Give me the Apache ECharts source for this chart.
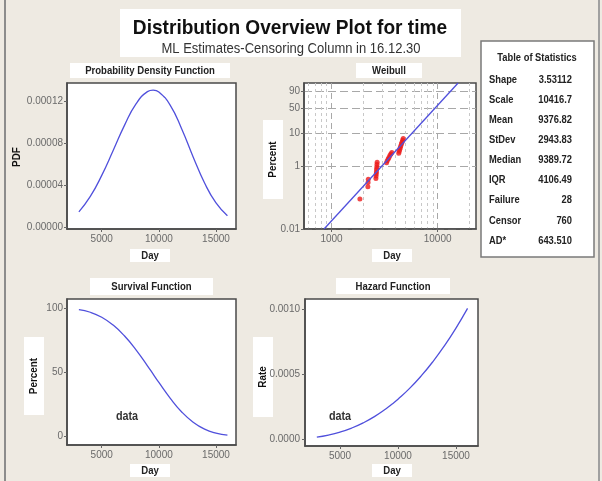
<!DOCTYPE html>
<html>
<head>
<meta charset="utf-8">
<script src="https://cdn.jsdelivr.net/npm/echarts@6/dist/echarts.min.js"></script>
<style>
html, body { margin: 0; padding: 0; background: #eeeae2; }
#main { width: 602px; height: 481px; }
</style>
</head>
<body>
<div id="main"></div>
<script>
// fitted curves
var days = [3000, 4000, 5000, 6000, 7000, 8000, 9000, 9500, 10000, 11000, 12000, 13000, 14000, 15000, 16000];
var pdfValues = [0.0000143, 0.0000290, 0.0000491, 0.0000728, 0.0000970, 0.0001172, 0.0001289, 0.0001304, 0.0001286, 0.0001158, 0.0000933, 0.0000667, 0.0000418, 0.0000228, 0.0000106];
var survivalValues = [98.8, 96.7, 92.8, 86.7, 78.2, 67.5, 55.1, 48.6, 42.1, 29.8, 19.2, 11.2, 5.8, 2.7, 1.1];
var hazardValues = [0.0000145, 0.0000301, 0.0000529, 0.0000839, 0.0001240, 0.0001738, 0.0002342, 0.0002685, 0.0003057, 0.0003891, 0.0004850, 0.0005939, 0.0007165, 0.0008531, 0.0010045];

// weibull probability plot: failures (day, percent) and fitted line
var failDays = [1850, 2200, 2210, 2220, 2620, 2630, 2640, 2650, 2660, 2670, 2680, 2690,
  3300, 3350, 3420, 3480, 3550, 3620, 3700,
  4300, 4350, 4400, 4450, 4500, 4560, 4620, 4680, 4740];
var failPct = [0.09, 0.22, 0.30, 0.38, 0.40, 0.48, 0.56, 0.65, 0.78, 0.92, 1.1, 1.3,
  1.25, 1.45, 1.65, 1.85, 2.1, 2.35, 2.65,
  2.5, 2.9, 3.3, 3.8, 4.3, 4.9, 5.5, 6.3, 7.1];
var fitDays = [850, 15600];
var fitPct = [0.01, 98.6];

// tick labels
var dayTicks = [5000, 10000, 15000];
var pdfTicks = [0, 0.00004, 0.00008, 0.00012];
var survTicks = [0, 50, 100];
var hazTicks = [0, 0.0005, 0.0010];
var wbDayTicks = [1000, 10000];
var wbDayMinor = [600, 700, 800, 900, 2000, 3000, 4000, 5000, 6000, 7000, 8000, 9000, 20000];
var wbPctTicks = [0.01, 1, 10, 50, 90];

var stats = [
  ['Shape', '3.53112'], ['Scale', '10416.7'], ['Mean', '9376.82'], ['StDev', '2943.83'],
  ['Median', '9389.72'], ['IQR', '4106.49'], ['Failure', '28'], ['Censor', '760'], ['AD*', '643.510']
];

function wb(p) { return Math.log(-Math.log(1 - p / 100)); }
function zip(a, b) { return a.map(function (v, i) { return [v, b[i]]; }); }

var FONT = '"Liberation Sans", Arial, sans-serif';
var lineColor = '#5050dc';
var frame = '#4a4a4a';

function valAxis(grid, min, max, ticks, fmt, margin) {
  return {
    type: 'value', gridIndex: grid, min: min, max: max,
    axisLine: { show: true, onZero: false, lineStyle: { color: frame, width: 1.5 } },
    axisTick: { show: true, length: 3, customValues: ticks, lineStyle: { color: '#666' } },
    axisLabel: { customValues: ticks, color: '#6a6a6a', fontSize: 10, margin: margin, fontFamily: FONT,
      formatter: fmt || function (v) { return String(v); } },
    splitLine: { show: false }
  };
}

var xAxes = [
  valAxis(0, 1960, 16750, dayTicks, null, 5),
  {
    type: 'log', gridIndex: 1, min: 550, max: 23000,
    axisLine: { show: true, onZero: false, lineStyle: { color: frame, width: 1.5 } },
    axisTick: { show: true, length: 3, customValues: wbDayTicks, lineStyle: { color: '#666' } },
    axisLabel: { customValues: wbDayTicks, color: '#6a6a6a', fontSize: 10, margin: 5, fontFamily: FONT,
      formatter: function (v) { return String(Math.round(v)); } },
    splitLine: { show: true, lineStyle: { color: '#a8a8a8', type: [6, 4], width: 1 } }
  },
  {
    type: 'log', gridIndex: 1, min: 550, max: 23000,
    axisLine: { show: false }, axisLabel: { show: false },
    axisTick: { show: false, customValues: wbDayMinor },
    splitLine: { show: true, lineStyle: { color: '#c8c8c8', type: [3, 3], width: 1 } }
  },
  valAxis(2, 1960, 16750, dayTicks, null, 5),
  valAxis(3, 1980, 16900, dayTicks, null, 5)
];

var wbY = valAxis(1, wb(0.01), 1.45, wbPctTicks.map(wb), function (v) {
  var best = wbPctTicks[0];
  wbPctTicks.forEach(function (p) { if (Math.abs(wb(p) - v) < Math.abs(wb(best) - v)) best = p; });
  return String(best);
}, 4);
wbY.splitLine = { show: true, lineStyle: { color: '#a8a8a8', type: [8, 4], width: 1 } };

var yAxes = [
  valAxis(0, -0.000002, 0.0001371, pdfTicks, function (v) { return v.toFixed(5); }, 4),
  wbY,
  valAxis(2, -6.5, 107, survTicks, null, 4),
  valAxis(3, -0.000054, 0.001077, hazTicks, function (v) { return v.toFixed(4); }, 5)
];

var grids = [
  { left: 67, top: 83, width: 169, height: 146 },
  { left: 304, top: 83, width: 172, height: 146 },
  { left: 67, top: 299, width: 169, height: 146 },
  { left: 305, top: 299, width: 173, height: 147 }
].map(function (g) {
  g.show = true; g.backgroundColor = '#fff'; g.borderColor = frame; g.borderWidth = 1.5;
  return g;
});

var graphics = [
  { type: 'line', shape: { x1: 5, y1: 0, x2: 5, y2: 481 }, style: { stroke: '#8c8c8c', lineWidth: 2 } },
  { type: 'line', shape: { x1: 599, y1: 0, x2: 599, y2: 481 }, style: { stroke: '#a0a0a0', lineWidth: 2 } },
  { type: 'rect', shape: { x: 120, y: 9, width: 341, height: 48 }, style: { fill: '#fff' } },
  { type: 'rect', shape: { x: 481, y: 41, width: 113, height: 216 }, style: { fill: '#fff', stroke: '#7a7a7a', lineWidth: 1.5 } }
];

// condensed text: the original uses a narrow face, so squeeze horizontally
function txt(x, y, text, size, opts) {
  opts = opts || {};
  graphics.push({
    type: 'text', x: x, y: y, scaleX: opts.sx || 0.86, rotation: opts.rot || 0,
    style: { text: text, x: 0, y: 0, align: opts.align || 'center', verticalAlign: 'middle',
      fontSize: size, fontWeight: opts.weight || 'bold', fontFamily: FONT, fill: opts.fill || '#222' }
  });
}

txt(290, 28, 'Distribution Overview Plot for time', 21, { sx: 0.91, fill: '#111' });
txt(291, 49, 'ML Estimates-Censoring Column in 16.12.30', 14, { sx: 0.93, weight: 'normal', fill: '#333' });
txt(537, 58, 'Table of Statistics', 11, { sx: 0.85 });
stats.forEach(function (r, i) {
  var y = 79.5 + i * 20.15;
  txt(489, y, r[0], 11, { align: 'left', sx: 0.85 });
  txt(572, y, r[1], 11, { align: 'right', sx: 0.85 });
});

function boxLabel(x, y, w, h, text) {
  graphics.push({ type: 'rect', shape: { x: x, y: y, width: w, height: h }, style: { fill: '#fff' } });
  txt(x + w / 2, y + h / 2 + 0.5, text, 11, { sx: 0.87 });
}
function vLabel(x, y, w, h, text, box) {
  if (box) graphics.push({ type: 'rect', shape: { x: x, y: y, width: w, height: h }, style: { fill: '#fff' } });
  graphics.push({ type: 'text', x: x + w / 2, y: y + h / 2, rotation: Math.PI / 2, scaleX: 0.9,
    style: { text: text, x: 0, y: 0, align: 'center', verticalAlign: 'middle', fontSize: 11, fontWeight: 'bold',
      fontFamily: FONT, fill: '#111' } });
}

boxLabel(70, 63, 160, 15, 'Probability Density Function');
boxLabel(356, 63, 66, 15, 'Weibull');
boxLabel(90, 278, 123, 17, 'Survival Function');
boxLabel(336, 278, 114, 16, 'Hazard Function');
boxLabel(130, 249, 40, 13, 'Day');
boxLabel(372, 249, 40, 13, 'Day');
boxLabel(130, 464, 40, 13, 'Day');
boxLabel(372, 464, 40, 13, 'Day');
vLabel(7, 140, 20, 34, 'PDF', false);
vLabel(263, 120, 20, 79, 'Percent', true);
vLabel(24, 337, 20, 78, 'Percent', true);
vLabel(253, 337, 20, 80, 'Rate', true);

txt(127, 417, 'data', 12, { sx: 0.9, fill: '#333' });
txt(340, 417, 'data', 12, { sx: 0.9, fill: '#333' });

var curve = { type: 'line', smooth: true, showSymbol: false, silent: true,
  lineStyle: { color: lineColor, width: 1.3 } };

var chart = echarts.init(document.getElementById('main'));
chart.setOption({
  backgroundColor: '#eeeae2',
  animation: false,
  grid: grids,
  xAxis: xAxes,
  yAxis: yAxes,
  graphic: graphics,
  series: [
    Object.assign({}, curve, { xAxisIndex: 0, yAxisIndex: 0, data: zip(days, pdfValues) }),
    Object.assign({}, curve, { xAxisIndex: 1, yAxisIndex: 1, smooth: false,
      data: zip(fitDays, fitPct.map(wb)) }),
    { type: 'scatter', xAxisIndex: 1, yAxisIndex: 1, symbolSize: 5, itemStyle: { color: '#ec1a1a' },
      data: zip(failDays, failPct.map(wb)) },
    Object.assign({}, curve, { xAxisIndex: 3, yAxisIndex: 2, data: zip(days, survivalValues) }),
    Object.assign({}, curve, { xAxisIndex: 4, yAxisIndex: 3, data: zip(days, hazardValues) })
  ]
});
</script>
</body>
</html>
